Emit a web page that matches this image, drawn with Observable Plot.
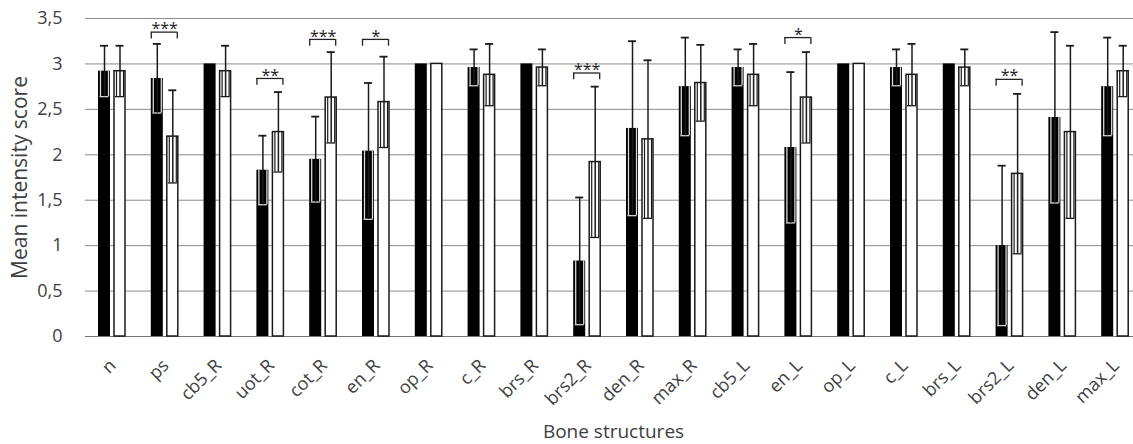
<!DOCTYPE html>
<html>
<head>
<meta charset="utf-8">
<script src="https://cdn.jsdelivr.net/npm/d3@7"></script>
<script src="https://cdn.jsdelivr.net/npm/@observablehq/plot@0.6"></script>
<style>
  html, body { margin: 0; padding: 0; background: #fff; overflow: hidden; }
</style>
</head>
<body>
<div id="chart"></div>
<script>
const categories = ["n","ps","cb5_R","uot_R","cot_R","en_R","op_R","c_R","brs_R","brs2_R","den_R","max_R","cb5_L","en_L","op_L","c_L","brs_L","brs2_L","den_L","max_L"];
const meanBlack = [2.92, 2.84, 3.00, 1.83, 1.95, 2.04, 3.00, 2.96, 3.00, 0.83, 2.29, 2.75, 2.96, 2.08, 3.00, 2.96, 3.00, 1.00, 2.41, 2.75];
const sdBlack   = [0.28, 0.38, 0,    0.38, 0.47, 0.75, 0,    0.20, 0,    0.70, 0.96, 0.54, 0.20, 0.83, 0,    0.20, 0,    0.88, 0.94, 0.54];
const meanWhite = [2.92, 2.20, 2.92, 2.25, 2.63, 2.58, 3.00, 2.88, 2.96, 1.92, 2.17, 2.79, 2.88, 2.63, 3.00, 2.88, 2.96, 1.79, 2.25, 2.92];
const sdWhite   = [0.28, 0.51, 0.28, 0.44, 0.50, 0.50, 0,    0.34, 0.20, 0.83, 0.87, 0.42, 0.34, 0.50, 0,    0.34, 0.20, 0.88, 0.95, 0.28];
const sigCats   = ["ps","uot_R","cot_R","en_R","brs2_R","en_L","brs2_L"];
const sigLabels = ["***","**","***","*","***","*","**"];
const sigLevels = [3.35, 2.84, 3.27, 3.27, 2.90, 3.29, 2.83];
const yTicks = [0, 0.5, 1, 1.5, 2, 2.5, 3, 3.5];
const xTitle = "Bone structures";
const yTitle = "Mean intensity score";

const black = categories.map((c, i) => ({cat: c, mean: meanBlack[i], sd: sdBlack[i], lo: meanBlack[i] - sdBlack[i], hi: meanBlack[i] + sdBlack[i]}));
const white = categories.map((c, i) => ({cat: c, mean: meanWhite[i], sd: sdWhite[i], lo: meanWhite[i] - sdWhite[i], hi: meanWhite[i] + sdWhite[i]}));
const blackErr = black.filter(d => d.sd > 0);
const whiteErr = white.filter(d => d.sd > 0);
const sig = sigCats.map((c, i) => ({cat: c, label: sigLabels[i], level: sigLevels[i], tip: sigLevels[i] - 0.075}));

const fmt = d => String(d).replace(".", ",");
const band = 52.8; // band step in px (for insets)
const eb = "#1a1a1a";
const txt = "#404040";

const chart = Plot.plot({
  width: 1133,
  height: 444,
  marginLeft: 85,
  marginRight: -8,
  marginTop: 18,
  marginBottom: 108,
  style: {fontFamily: "'Open Sans', sans-serif", color: txt, background: "#fff"},
  x: {domain: categories, padding: 0, round: false, axis: null},
  y: {domain: [0, 3.5], axis: null},
  marks: [
    Plot.ruleY(yTicks.filter(d => d > 0), {stroke: "#8c8c8c", strokeWidth: 1}),
    Plot.ruleY([0], {stroke: "#777", strokeWidth: 1.2}),
    // bars
    Plot.barY(black, {x: "cat", y1: 0, y2: "mean", fill: "#000", insetLeft: 13, insetRight: band - 25}),
    Plot.barY(white, {x: "cat", y1: 0, y2: "mean", fill: "#fff", stroke: "#1a1a1a", strokeWidth: 1.5, insetLeft: 29, insetRight: band - 40}),
    // black-bar error bars: lower box (light), center line, caps
    Plot.ruleX(blackErr, {x: "cat", y1: "lo", y2: "mean", dx: -11.4, stroke: "#d8d8d8", strokeWidth: 1.3}),
    Plot.ruleX(blackErr, {x: "cat", y1: "lo", y2: "mean", dx: -3.4, stroke: "#d8d8d8", strokeWidth: 1.3}),
    Plot.tickY(blackErr, {x: "cat", y: "lo", stroke: "#d8d8d8", strokeWidth: 1.3, insetLeft: 14.5, insetRight: band - 23.5}),
    Plot.ruleX(blackErr, {x: "cat", y1: "lo", y2: "hi", dx: -7.4, stroke: eb, strokeWidth: 1.5}),
    Plot.tickY(blackErr, {x: "cat", y: "hi", stroke: eb, strokeWidth: 1.8, insetLeft: 15, insetRight: band - 23}),
    // white-bar error bars
    Plot.ruleX(whiteErr, {x: "cat", y1: "lo", y2: "mean", dx: 4.6, stroke: eb, strokeWidth: 1.2}),
    Plot.ruleX(whiteErr, {x: "cat", y1: "lo", y2: "mean", dx: 11.6, stroke: eb, strokeWidth: 1.2}),
    Plot.tickY(whiteErr, {x: "cat", y: "lo", stroke: eb, strokeWidth: 1.3, insetLeft: 30, insetRight: band - 39}),
    Plot.ruleX(whiteErr, {x: "cat", y1: "lo", y2: "hi", dx: 8.1, stroke: eb, strokeWidth: 1.5}),
    Plot.tickY(whiteErr, {x: "cat", y: "hi", stroke: eb, strokeWidth: 1.8, insetLeft: 30.5, insetRight: band - 38.5}),
    // significance brackets
    Plot.tickY(sig, {x: "cat", y: "level", stroke: "#222", strokeWidth: 1.3, insetLeft: 13, insetRight: band - 39}),
    Plot.ruleX(sig, {x: "cat", y1: "tip", y2: "level", dx: -13.4, stroke: "#222", strokeWidth: 1.3}),
    Plot.ruleX(sig, {x: "cat", y1: "tip", y2: "level", dx: 12.6, stroke: "#222", strokeWidth: 1.3}),
    Plot.text(sig, {x: "cat", y: "level", text: "label", dy: -3, fontSize: 16, fill: "#222"}),
    // axis tick labels
    Plot.text(yTicks, {y: d => d, text: fmt, frameAnchor: "left", textAnchor: "end", lineAnchor: "middle", dx: -23, fontSize: 18, fill: txt}),
    Plot.text(categories, {x: d => d, text: d => d, frameAnchor: "bottom", rotate: -45, textAnchor: "end", lineAnchor: "middle", dx: 1, dy: 26, fontSize: 18, fill: txt}),
    // axis titles
    Plot.text([yTitle], {text: d => d, frameAnchor: "left", textAnchor: "middle", lineAnchor: "middle", rotate: -90, dx: -65, fontSize: 21, fill: txt}),
    Plot.text([xTitle], {text: d => d, frameAnchor: "bottom", textAnchor: "middle", lineAnchor: "middle", dy: 95, fontSize: 19, fill: txt})
  ]
});
document.getElementById("chart").appendChild(chart);
</script>
</body>
</html>
